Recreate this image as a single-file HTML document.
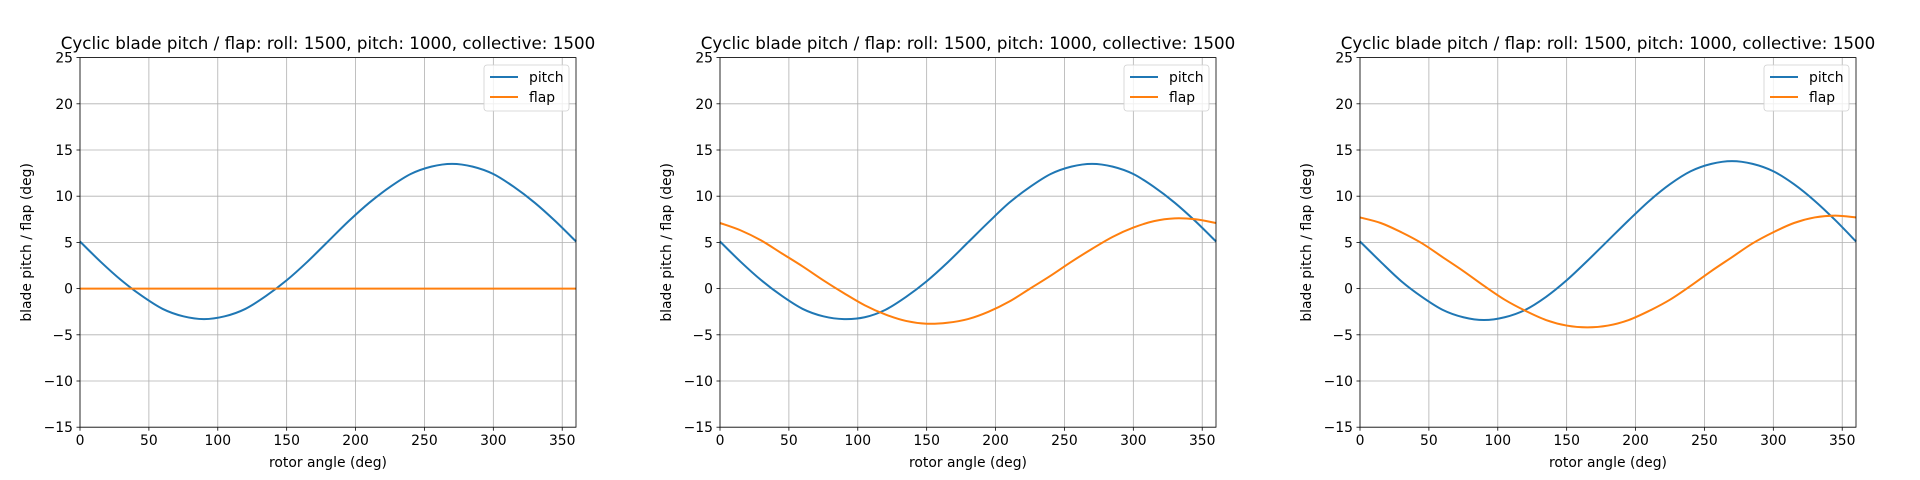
<!DOCTYPE html>
<html><head><meta charset="utf-8"><style>
html,body{margin:0;padding:0;background:#fff;}
#wrap{width:1920px;height:480px;position:relative;}
svg{position:absolute;top:0;}
text{font-family:"DejaVu Sans","Liberation Sans",sans-serif;fill:#000;}
</style></head><body>
<div id="wrap"></div>
<script>
const angles = [0,15,30,45,60,75,90,105,120,135,150,165,180,195,210,225,240,255,270,285,300,315,330,345,360];
const pitch1 = [5.1,2.9,0.9,-0.8,-2.2,-3.0,-3.3,-3.0,-2.2,-0.8,0.9,2.9,5.1,7.3,9.3,11.0,12.4,13.2,13.5,13.2,12.4,11.0,9.3,7.3,5.1];
const flap1 = [0,0,0,0,0,0,0,0,0,0,0,0,0,0,0,0,0,0,0,0,0,0,0,0,0];
const pitch2 = [5.1,2.9,0.9,-0.8,-2.2,-3.0,-3.3,-3.1,-2.3,-0.9,0.8,2.8,5.0,7.2,9.3,11.0,12.4,13.2,13.5,13.2,12.4,11.0,9.3,7.3,5.1];
const flap2 = [7.1,6.3,5.2,3.8,2.4,0.9,-0.5,-1.8,-2.8,-3.5,-3.8,-3.7,-3.3,-2.5,-1.4,0.0,1.4,2.9,4.3,5.6,6.6,7.3,7.6,7.5,7.1];
const pitch3 = [5.1,2.9,0.8,-0.9,-2.3,-3.1,-3.4,-3.1,-2.3,-0.9,0.9,3.0,5.2,7.4,9.5,11.3,12.7,13.5,13.8,13.5,12.7,11.3,9.5,7.4,5.1];
const flap3 = [7.7,7.1,6.1,4.9,3.4,1.9,0.3,-1.2,-2.4,-3.4,-4.0,-4.2,-4.0,-3.4,-2.4,-1.2,0.3,1.9,3.4,4.9,6.1,7.1,7.7,7.9,7.7];
const xTicks = [0,50,100,150,200,250,300,350];
const yTicks = [-15,-10,-5,0,5,10,15,20,25];
const titleText = "Cyclic blade pitch / flap: roll: 1500, pitch: 1000, collective: 1500";
const panels = [[pitch1,flap1],[pitch2,flap2],[pitch3,flap3]];

const NS="http://www.w3.org/2000/svg";
const L=80,R=576,T=57.6,B=427.2;
const sx=v=>L+(v-0)/(360-0)*(R-L);
const sy=v=>B-(v+15)/(40)*(B-T);
function mk(p,tag,at){const e=document.createElementNS(NS,tag);for(const k in at)e.setAttribute(k,at[k]);p.appendChild(e);return e;}
function pathD(xs,ys){
  const P=xs.map((x,i)=>[sx(x),sy(ys[i])]);
  let d="M"+P[0][0].toFixed(2)+","+P[0][1].toFixed(2);
  for(let i=0;i<P.length-1;i++){
    const p0=P[Math.max(0,i-1)],p1=P[i],p2=P[i+1],p3=P[Math.min(P.length-1,i+2)];
    const c1=[p1[0]+(p2[0]-p0[0])/6,p1[1]+(p2[1]-p0[1])/6];
    const c2=[p2[0]-(p3[0]-p1[0])/6,p2[1]-(p3[1]-p1[1])/6];
    d+=" C"+c1.map(v=>v.toFixed(2))+" "+c2.map(v=>v.toFixed(2))+" "+p2.map(v=>v.toFixed(2));
  }
  return d;
}
const wrap=document.getElementById('wrap');
panels.forEach((pd,pi)=>{
  const svg=mk(wrap,'svg',{width:640,height:480});
  svg.style.left=(pi*640)+'px';
  
  
  const g=mk(svg,'g',{});
  xTicks.forEach(t=>{
    const ln=mk(g,'line',{x1:sx(t),x2:sx(t),y1:T,y2:B,stroke:'#b0b0b0','stroke-width':0.8});
    
    
    mk(g,'line',{x1:sx(t),x2:sx(t),y1:B,y2:B+3.5,stroke:'#000','stroke-width':0.8});
    const tx=mk(g,'text',{x:sx(t),y:B+18,'text-anchor':'middle','font-size':13.9});
    tx.textContent=t;
    
    
  });
  yTicks.forEach(t=>{
    const ln=mk(g,'line',{x1:L,x2:R,y1:sy(t),y2:sy(t),stroke:'#b0b0b0','stroke-width':0.8});
    
    
    mk(g,'line',{x1:L-3.5,x2:L,y1:sy(t),y2:sy(t),stroke:'#000','stroke-width':0.8});
    const tx=mk(g,'text',{x:L-7,y:sy(t)+5,'text-anchor':'end','font-size':13.9});
    tx.textContent=t<0?'\u2212'+Math.abs(t):t;
    
    
  });
  const cols=['#1f77b4','#ff7f0e'];
  const names=['pitch','flap'];
  pd.forEach((ser,si)=>{
    const p=mk(g,'path',{d:pathD(angles,ser),fill:'none',stroke:cols[si],'stroke-width':2});
    
    
  });
  const fr=mk(g,'rect',{x:L,y:T,width:R-L,height:B-T,fill:'none',stroke:'#000','stroke-width':0.8});
  
  
  const ti=mk(g,'text',{x:(L+R)/2,y:49,'text-anchor':'middle','font-size':16.7});
  ti.textContent=titleText;
  
  
  const xl=mk(g,'text',{x:(L+R)/2,y:467,'text-anchor':'middle','font-size':13.9});
  xl.textContent='rotor angle (deg)';
  
  
  const yl=mk(g,'text',{x:0,y:0,'text-anchor':'middle','font-size':13.9,transform:'translate(31,'+((T+B)/2)+') rotate(-90)'});
  yl.textContent='blade pitch / flap (deg)';
  
  
  const lg=mk(g,'g',{});
  
  
  mk(lg,'rect',{x:484,y:65,width:85,height:46,rx:3,fill:'#fff','fill-opacity':0.8,stroke:'#d0d0d0','stroke-width':0.8});
  names.forEach((n,i)=>{
    const y=77+i*20;
    const e=mk(lg,'g',{});
    
    
    mk(e,'line',{x1:490,x2:518,y1:y,y2:y,stroke:cols[i],'stroke-width':2});
    const t=mk(e,'text',{x:529,y:y+5,'font-size':13.9});
    t.textContent=n;
  });
});
</script>
</body></html>
